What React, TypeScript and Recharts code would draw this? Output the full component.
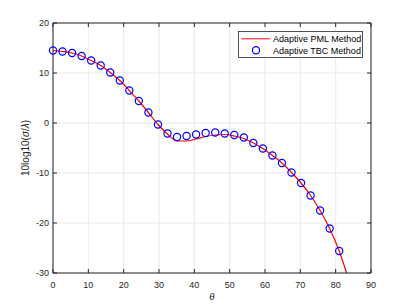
import {
  CartesianGrid,
  ComposedChart,
  Legend,
  Line,
  Scatter,
  XAxis,
  YAxis,
} from "recharts";

// 角度 θ（度）
const thetaTicks = [0, 10, 20, 30, 40, 50, 60, 70, 80, 90];
const rcsTicks = [-30, -20, -10, 0, 10, 20];

// Adaptive PML Method（赤の実線）
const pmlTheta = [
  0, 2.7, 5.4, 8.1, 10.8, 13.5, 16.2, 18.9, 21.6, 24.3, 27.0, 29.7, 32.4, 35.1,
  37.8, 40.5, 43.2, 45.9, 48.6, 51.3, 54.0, 56.7, 59.4, 62.1, 64.8, 67.5, 70.2,
  72.9, 75.6, 78.3, 81.0, 83.1,
];
const pmlValues = [
  14.5, 14.3, 14.0, 13.4, 12.5, 11.5, 10.1, 8.5, 6.5, 4.4, 2.1, -0.3, -2.2,
  -3.6, -3.6, -3.2, -2.7, -2.4, -2.3, -2.6, -3.1, -4.0, -5.1, -6.5, -8.0, -9.9,
  -12.0, -14.5, -17.5, -21.1, -25.6, -30,
];

// Adaptive TBC Method（青の丸）
const tbcTheta = [
  0, 2.7, 5.4, 8.1, 10.8, 13.5, 16.2, 18.9, 21.6, 24.3, 27.0, 29.7, 32.4, 35.1,
  37.8, 40.5, 43.2, 45.9, 48.6, 51.3, 54.0, 56.7, 59.4, 62.1, 64.8, 67.5, 70.2,
  72.9, 75.6, 78.3, 81.0,
];
const tbcValues = [
  14.5, 14.3, 14.0, 13.4, 12.5, 11.5, 10.1, 8.5, 6.5, 4.4, 2.1, -0.3, -2.1,
  -2.8, -2.6, -2.3, -2.0, -1.9, -2.1, -2.4, -2.9, -4.0, -5.1, -6.5, -8.0, -9.9,
  -12.0, -14.5, -17.5, -21.1, -25.6,
];

const pmlRows = pmlTheta.map((x, i) => ({ x, y: pmlValues[i] }));
const tbcRows = tbcTheta.map((x, i) => ({ x, y: tbcValues[i] }));

const FONT = "'Liberation Sans', Arial, Helvetica, sans-serif";
const INK = "#262626";

// プロット領域の枠（margin と軸幅から決まる）
const TOP = 23;
const BOTTOM = 273;
const LEFT = 53;
const RIGHT = 371;
const TICK = 4;

// MATLAB 風：目盛りは内向き、上下左右すべてに付ける。
// グリッドより上に描かれる軸レイヤーの中で、上辺・右辺の枠線もここで引く。
function XTick(props: any) {
  const x = props.x;
  const last = props.index === thetaTicks.length - 1;
  return (
    <g>
      <line x1={x} x2={x} y1={BOTTOM} y2={BOTTOM - TICK} stroke={INK} />
      <line x1={x} x2={x} y1={TOP} y2={TOP + TICK} stroke={INK} />
      {last && <line x1={x} x2={x} y1={TOP} y2={BOTTOM} stroke={INK} />}
      <text x={x} y={287.5} textAnchor="middle" fontSize={9} fill={INK} fontFamily={FONT}>
        {props.payload.value}
      </text>
    </g>
  );
}

function YTick(props: any) {
  const y = props.y;
  const last = props.index === rcsTicks.length - 1;
  return (
    <g>
      <line x1={LEFT} x2={LEFT + TICK} y1={y} y2={y} stroke={INK} />
      <line x1={RIGHT} x2={RIGHT - TICK} y1={y} y2={y} stroke={INK} />
      {last && <line x1={LEFT} x2={RIGHT} y1={y} y2={y} stroke={INK} />}
      <text x={49} y={y + 3.2} textAnchor="end" fontSize={9} fill={INK} fontFamily={FONT}>
        {props.payload.value}
      </text>
    </g>
  );
}

function LegendBox() {
  return (
    <svg width={125} height={27} style={{ display: "block" }}>
      <rect x={0.5} y={0.5} width={124} height={26} fill="#fff" stroke={INK} strokeWidth={0.8} />
      <line x1={3.5} x2={32} y1={7.8} y2={7.8} stroke="#ff0000" strokeWidth={1} />
      <text x={35} y={10.8} fontSize={9} fill="#000" fontFamily={FONT}>
        Adaptive PML Method
      </text>
      <circle cx={18} cy={19.3} r={3.6} fill="none" stroke="#0000ff" strokeWidth={1.2} />
      <text x={35} y={22.6} fontSize={9} fill="#000" fontFamily={FONT}>
        Adaptive TBC Method
      </text>
    </svg>
  );
}

function YLabel(props: any) {
  const vb = props.viewBox || {};
  const cy = vb.y + vb.height / 2;
  return (
    <text
      x={25}
      y={cy}
      transform={`rotate(-90, 25, ${cy})`}
      textAnchor="middle"
      dominantBaseline="central"
      fontSize={10}
      fill={INK}
      fontFamily={FONT}
    >
      10log10(<tspan fontStyle="italic">σ</tspan>/<tspan fontStyle="italic">λ</tspan>)
    </text>
  );
}

function XLabel(props: any) {
  const vb = props.viewBox || {};
  return (
    <text
      x={vb.x + vb.width / 2}
      y={300}
      textAnchor="middle"
      fontSize={11}
      fontStyle="italic"
      fill={INK}
      fontFamily="'Liberation Serif', 'Times New Roman', serif"
    >
      θ
    </text>
  );
}

const circleShape = (p: any) => (
  <circle cx={p.cx} cy={p.cy} r={3.6} fill="none" stroke="#0000ff" strokeWidth={1.2} />
);

export default function App() {
  return (
    <div style={{ position: "absolute", left: 0, top: 0, background: "#fff" }}>
      <ComposedChart
        width={410}
        height={307}
        margin={{ top: TOP, right: 410 - RIGHT, bottom: 0, left: 0 }}
      >
        <CartesianGrid stroke="#e3e3e3" strokeWidth={0.8} />
        <XAxis
          dataKey="x"
          type="number"
          domain={[0, 90]}
          ticks={thetaTicks}
          height={307 - BOTTOM}
          tickLine={false}
          stroke={INK}
          tick={<XTick />}
          interval={0}
          label={<XLabel />}
        />
        <YAxis
          type="number"
          domain={[-30, 20]}
          ticks={rcsTicks}
          width={LEFT}
          tickLine={false}
          stroke={INK}
          tick={<YTick />}
          interval={0}
          label={<YLabel />}
        />
        <Line
          data={pmlRows}
          dataKey="y"
          type="monotone"
          stroke="#ff0000"
          strokeWidth={1.2}
          dot={false}
          isAnimationActive={false}
          name="Adaptive PML Method"
        />
        <Scatter
          data={tbcRows}
          dataKey="y"
          shape={circleShape}
          isAnimationActive={false}
          name="Adaptive TBC Method"
        />
        <Legend
          layout="horizontal"
          verticalAlign="middle"
          align="center"
          wrapperStyle={{ left: 238, top: 31, width: 125 }}
          content={() => <LegendBox />}
        />
      </ComposedChart>
    </div>
  );
}
